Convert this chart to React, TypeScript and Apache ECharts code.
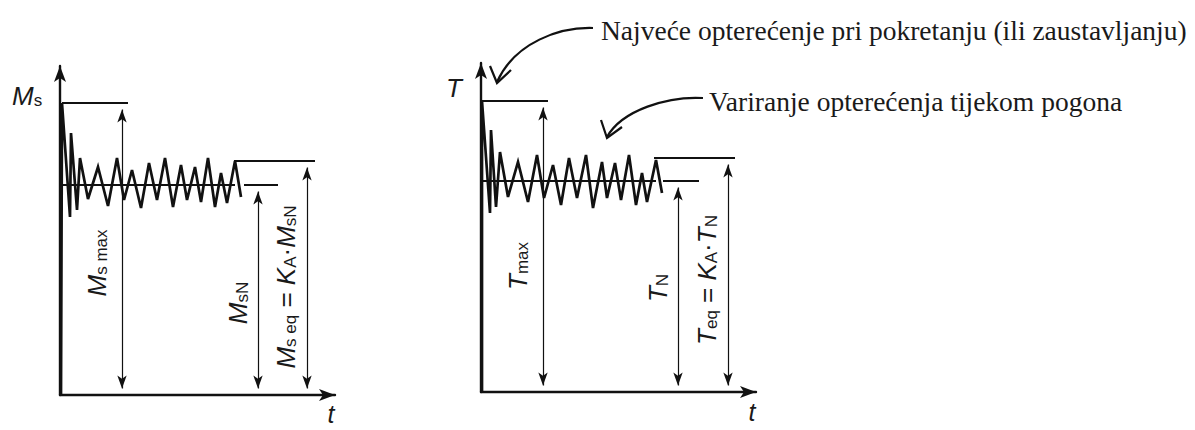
import React, { useEffect, useRef } from "react";
import * as echarts from "echarts";

// Signal traces (x: time units from the axis, y: torque units from the base line)
const leftSignal: number[][] = [
  [1, 0], [2, 292], [10, 178], [11, 262], [17, 185], [20, 237], [28, 196], [38, 228],
  [48, 189], [57, 237], [64, 195], [72, 225], [81, 187], [89, 232], [97, 195], [105, 237],
  [113, 188], [121, 230], [127, 195], [135, 228], [141, 193], [148, 237], [155, 188],
  [161, 222], [167, 192], [175, 234], [181, 198],
];
const rightSignal: number[][] = [
  [1, 0], [1, 291], [9, 179], [10, 262], [15, 185], [19, 240], [27, 195], [37, 230],
  [47, 190], [56, 237], [63, 194], [72, 227], [80, 187], [88, 234], [96, 194], [105, 237],
  [112, 184], [121, 230], [126, 194], [134, 229], [140, 192], [148, 237], [155, 187],
  [161, 219], [166, 190], [175, 232], [181, 199],
];

// Horizontal reference levels: [start, end]
const leftLevels: number[][][] = [
  [[2, 292], [68, 292]],
  [[2, 210], [175, 210]],
  [[184, 210], [218, 210]],
  [[174, 234], [255, 234]],
];
const rightLevels: number[][][] = [
  [[1, 291], [67, 291]],
  [[1, 211], [175, 211]],
  [[182, 211], [218, 211]],
  [[173, 234], [254, 234]],
];
// Dimension arrows: [x, top]
const leftDims: number[][] = [[62, 292], [198, 210], [247, 234]];
const rightDims: number[][] = [[62, 291], [197, 211], [247, 234]];

const annotTop = "Najveće opterećenje pri pokretanju (ili zaustavljanju)";
const annotMid = "Variranje opterećenja tijekom pogona";

const INK = "#111";
const TXT = "#1a1a1a";
const SANS = "'Liberation Sans', Arial, sans-serif";
const SERIF = "'Liberation Serif', 'Times New Roman', serif";

const rich = {
  i: { fontFamily: SANS, fontStyle: "italic", fontSize: 26, lineHeight: 26, fill: TXT },
  r: { fontFamily: SANS, fontSize: 26, lineHeight: 26, fill: TXT },
  s: { fontFamily: SANS, fontSize: 17, lineHeight: 14, verticalAlign: "bottom", fill: TXT },
};

const AH = 13;

function buildMarkLines(levels: number[][][], dims: number[][]) {
  const data: any[] = [];
  levels.forEach(([a, b]) => {
    data.push([
      { coord: a, symbol: "none", lineStyle: { width: 1.9, color: INK, type: "solid" } },
      { coord: b, symbol: "none" },
    ]);
  });
  dims.forEach(([x, top]) => {
    data.push([
      { coord: [x, AH / 2], symbol: "arrow", lineStyle: { width: 1.2, color: INK, type: "solid" } },
      { coord: [x, top - AH / 2], symbol: "arrow" },
    ]);
  });
  return {
    silent: true,
    symbolSize: [7, AH],
    label: { show: false },
    emphasis: { disabled: true },
    lineStyle: { color: INK, type: "solid" },
    itemStyle: { color: INK },
    data,
  };
}

function axis(gridIndex: number, max: number) {
  return {
    type: "value",
    gridIndex,
    min: 0,
    max,
    axisLine: {
      show: true,
      onZero: false,
      symbol: ["none", "arrow"],
      symbolSize: [9, 16],
      lineStyle: { color: INK, width: 2.4 },
    },
    axisTick: { show: false },
    axisLabel: { show: false },
    splitLine: { show: false },
  };
}

function rotLabel(x: number, y: number, text: string) {
  return {
    type: "text",
    x,
    y,
    rotation: Math.PI / 2,
    style: { text, align: "center", verticalAlign: "middle", rich },
  };
}

export default function App() {
  const ref = useRef<HTMLDivElement>(null);
  useEffect(() => {
    if (!ref.current) return;
    const chart = echarts.init(ref.current, undefined, { renderer: "svg" });
    const option: any = {
      animation: false,
      backgroundColor: "#fff",
      grid: [
        { left: 60, top: 66, width: 275, height: 329 },
        { left: 481, top: 63, width: 275, height: 329 },
      ],
      xAxis: [axis(0, 275), axis(1, 275)],
      yAxis: [axis(0, 329), axis(1, 329)],
      series: [
        {
          type: "line",
          xAxisIndex: 0,
          yAxisIndex: 0,
          data: leftSignal,
          showSymbol: false,
          symbol: "none",
          clip: false,
          lineStyle: { color: INK, width: 2.7, join: "miter" },
          markLine: buildMarkLines(leftLevels, leftDims),
        },
        {
          type: "line",
          xAxisIndex: 1,
          yAxisIndex: 1,
          data: rightSignal,
          showSymbol: false,
          symbol: "none",
          clip: false,
          lineStyle: { color: INK, width: 2.7, join: "miter" },
          markLine: buildMarkLines(rightLevels, rightDims),
        },
      ],
      graphic: [
        { type: "text", x: 12, y: 96, style: { text: "{i|M}{s|s}", align: "left", verticalAlign: "middle", rich } },
        { type: "text", x: 446, y: 88, style: { text: "{i|T}", align: "left", verticalAlign: "middle", rich } },
        { type: "text", x: 331, y: 414, style: { text: "t", fontFamily: SANS, fontStyle: "italic", fontSize: 25, fill: TXT, align: "center", verticalAlign: "middle" } },
        { type: "text", x: 752, y: 412, style: { text: "t", fontFamily: SANS, fontStyle: "italic", fontSize: 25, fill: TXT, align: "center", verticalAlign: "middle" } },
        rotLabel(97, 263, "{i|M}{s|s max}"),
        rotLabel(238, 303, "{i|M}{s|sN}"),
        rotLabel(286, 287, "{i|M}{s|s eq}{r| = }{i|K}{s|A}{r|·}{i|M}{s|sN}"),
        rotLabel(518, 266, "{i|T}{s|max}"),
        rotLabel(658, 288, "{i|T}{s|N}"),
        rotLabel(707, 280, "{i|T}{s|eq}{r| = }{i|K}{s|A}{r|·}{i|T}{s|N}"),
        {
          type: "text",
          x: 601,
          y: 30,
          style: { text: annotTop, fontFamily: SERIF, fontSize: 27.5, fill: TXT, align: "left", verticalAlign: "middle" },
        },
        {
          type: "text",
          x: 709,
          y: 101,
          style: { text: annotMid, fontFamily: SERIF, fontSize: 27.5, fill: TXT, align: "left", verticalAlign: "middle" },
        },
        {
          type: "bezierCurve",
          shape: { x1: 593, y1: 28, cpx1: 560, cpy1: 27, cpx2: 515, cpy2: 42, x2: 497, y2: 82 },
          style: { stroke: INK, lineWidth: 2.2, fill: "none" },
        },
        {
          type: "polyline",
          shape: { points: [[490, 66], [497, 83], [511, 70]] },
          style: { stroke: INK, lineWidth: 2.2, fill: "none" },
        },
        {
          type: "bezierCurve",
          shape: { x1: 703, y1: 98, cpx1: 668, cpy1: 96, cpx2: 622, cpy2: 110, x2: 607, y2: 137 },
          style: { stroke: INK, lineWidth: 2.2, fill: "none" },
        },
        {
          type: "polyline",
          shape: { points: [[601, 120], [607, 138], [622, 127]] },
          style: { stroke: INK, lineWidth: 2.2, fill: "none" },
        },
      ],
    };
    chart.setOption(option);
    return () => chart.dispose();
  }, []);
  return (
    <div
      ref={ref}
      style={{ position: "absolute", left: 0, top: 0, width: 1195, height: 430, background: "#fff" }}
    />
  );
}
